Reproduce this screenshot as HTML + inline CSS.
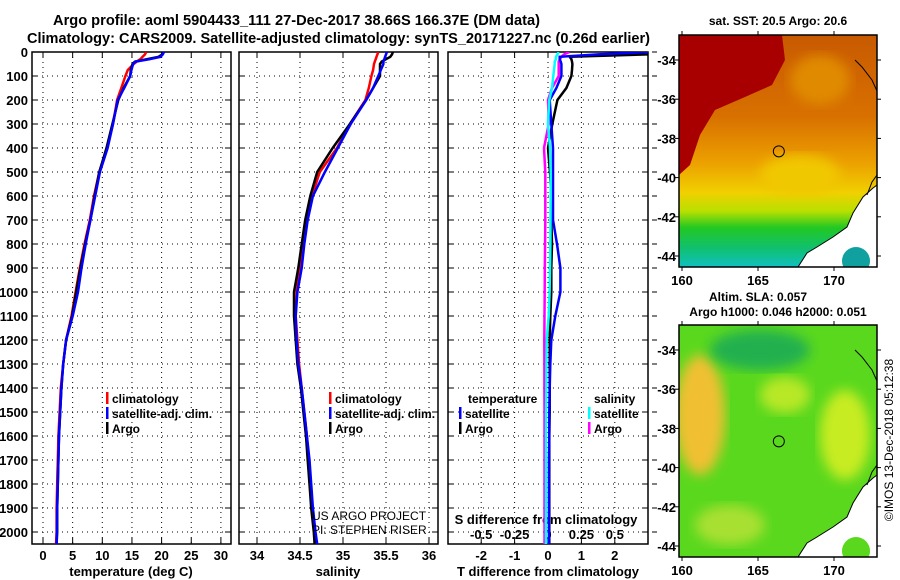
<!DOCTYPE html>
<html><head><meta charset="utf-8"><style>
html,body{margin:0;padding:0;background:#fff;}
svg{display:block;font-family:"Liberation Sans",sans-serif;font-weight:bold;}
</style></head><body>
<svg id="fig" width="900" height="580" viewBox="0 0 900 580" xmlns="http://www.w3.org/2000/svg">
<defs>
<linearGradient id="sstg" x1="0" y1="0" x2="0" y2="1">
<stop offset="0" stop-color="#c85a00"/><stop offset="0.35" stop-color="#d87000"/><stop offset="0.55" stop-color="#eca000"/>
<stop offset="0.68" stop-color="#f0d000"/><stop offset="0.76" stop-color="#b8e000"/><stop offset="0.83" stop-color="#22c822"/>
<stop offset="0.92" stop-color="#10c070"/><stop offset="1" stop-color="#10c0c0"/></linearGradient>
<filter id="bl"><feGaussianBlur stdDeviation="6"/></filter>
<clipPath id="c1"><rect x="679" y="35" width="198" height="232"/></clipPath>
<clipPath id="c2"><rect x="679" y="325" width="198" height="232"/></clipPath>
</defs>
<text x="53" y="25" font-size="14.5" textLength="487" lengthAdjust="spacingAndGlyphs">Argo profile: aoml 5904433_111 27-Dec-2017 38.66S 166.37E (DM data)</text>
<text x="27" y="43" font-size="14.5" textLength="623" lengthAdjust="spacingAndGlyphs">Climatology: CARS2009. Satellite-adjusted climatology: synTS_20171227.nc (0.26d earlier)</text>
<g id="maps"></g>
<g id="plots"></g>
</svg>
<script>
// ---- data ----
const depths=[0,10,20,30,40,50,75,100,150,200,300,400,500,600,700,800,900,1000,1100,1200,1300,1400,1500,1600,1700,1800,1900,2000,2050];
const argoT=[20.3,20.1,19.5,17.5,15.5,15.1,14.8,14.7,13.6,12.7,11.7,10.7,9.5,8.7,8.0,7.1,6.3,5.6,4.9,3.9,3.4,3.1,2.9,2.7,2.6,2.5,2.4,2.4,2.3];
const climT=[17.4,17.2,16.8,16.4,15.8,15.3,14.3,13.9,13.2,12.5,11.8,10.8,9.5,8.6,7.9,7.0,6.2,5.5,4.8,3.9,3.4,3.0,2.8,2.6,2.5,2.4,2.3,2.3,2.2];
const satT=[20.4,20.2,19.8,18,15.6,15.2,14.9,14.7,13.7,12.6,11.8,10.9,9.6,8.8,8.0,7.2,6.5,5.9,5.0,3.9,3.4,3.1,2.9,2.7,2.6,2.5,2.4,2.35,2.3];
const argoS=[35.58,35.57,35.55,35.5,35.45,35.43,35.43,35.43,35.35,35.27,35.08,34.88,34.7,34.62,34.56,34.52,34.48,34.43,34.43,34.45,34.47,34.51,34.54,34.57,34.59,34.61,34.63,34.66,34.67];
const climS=[35.41,35.4,35.39,35.38,35.37,35.36,35.35,35.33,35.3,35.26,35.08,34.93,34.73,34.64,34.58,34.54,34.5,34.46,34.45,34.47,34.49,34.52,34.55,34.58,34.6,34.62,34.64,34.67,34.68];
const satS=[35.51,35.5,35.49,35.48,35.47,35.47,35.44,35.41,35.35,35.27,35.09,34.94,34.79,34.65,34.59,34.55,34.52,34.47,34.45,34.46,34.48,34.52,34.55,34.58,34.61,34.63,34.65,34.68,34.7];
const argoDT=[3.0,3.0,0.65,0.7,0.72,0.73,0.72,0.7,0.55,0.28,0.13,0.0,0.06,0.1,0.1,0.12,0.1,0.1,0.07,0.05,0.05,0.05,0.05,0.04,0.04,0.04,0.04,0.04,0.04];
const satDT=[3.0,1.5,0.35,0.35,0.38,0.4,0.4,0.4,0.25,0.05,0.1,0.15,0.15,0.15,0.15,0.27,0.37,0.37,0.22,0.1,0.07,0.05,0.04,0.04,0.03,0.03,0.03,0.03,0.03];
const argoDS=[0.16,0.12,0.1,0.09,0.08,0.08,0.08,0.08,0.03,0.0,0.005,-0.03,-0.02,-0.02,-0.02,-0.022,-0.024,-0.025,-0.026,-0.028,-0.027,-0.027,-0.026,-0.026,-0.026,-0.026,-0.026,-0.026,-0.026];
const satDS=[0.08,0.07,0.06,0.06,0.05,0.05,0.045,0.04,0.03,0.01,0.0,0.015,0.02,0.02,0.019,0.018,0.015,0.012,0.005,-0.01,-0.012,-0.013,-0.014,-0.015,-0.015,-0.015,-0.015,-0.015,-0.015];
const depthTicks=[0,100,200,300,400,500,600,700,800,900,1000,1100,1200,1300,1400,1500,1600,1700,1800,1900,2000];
const tTicks=[0,5,10,15,20,25,30];
const sTicks=[34,34.5,35,35.5,36];
const sTickLabels=['34','34.5','35','35.5','36'];
const dtTicks=[-2,-1,0,1,2];
const dsTicks=[-0.5,-0.25,0,0.25,0.5];
const dsTickLabels=['-0.5','-0.25','0','0.25','0.5'];
const latTicks=[-34,-36,-38,-40,-42,-44];
const lonTicks=[160,165,170];
const argoLon=166.37, argoLat=-38.66;

const NS='http://www.w3.org/2000/svg';
const plots=document.getElementById('plots'), maps=document.getElementById('maps');
function mk(tag,attrs,parent,txt){const e=document.createElementNS(NS,tag);for(const k in attrs)e.setAttribute(k,attrs[k]);if(txt!==undefined)e.textContent=txt;(parent||plots).appendChild(e);return e;}
const yD=d=>52+d*0.24;
const xT=t=>43+5.93*t, xS=s=>257+86*(s-34), xdT=v=>548+33.4*v, xdS=v=>548+133.6*v;
const PT=52,PB=544;
const panels=[{x0:32,x1:231,n:'temperature-panel'},{x0:239,x1:438,n:'salinity-panel'},{x0:448,x1:648,n:'difference-panel'}];
const vgrid=[tTicks.map(xT),sTicks.map(xS),dtTicks.map(xdT)];
panels.forEach((p,i)=>{
  const g=mk('g',{},plots);
  
  
  const cp=mk('clipPath',{id:'pc'+i},g);mk('rect',{x:p.x0,y:PT,width:p.x1-p.x0,height:PB-PT},cp);
  depthTicks.forEach(d=>{const l=mk('line',{x1:p.x0,x2:p.x1,y1:yD(d),y2:yD(d),stroke:'#000','stroke-width':1,'stroke-dasharray':'1,4'},g);
    
    mk('line',{x1:p.x0,x2:p.x0+6,y1:yD(d),y2:yD(d),stroke:'#000'},g);mk('line',{x1:p.x1-6,x2:p.x1,y1:yD(d),y2:yD(d),stroke:'#000'},g);
    if(i==2)mk('line',{x1:p.x1+4,x2:p.x1+9,y1:yD(d),y2:yD(d),stroke:'#000'},g);});
  vgrid[i].forEach(x=>{const l=mk('line',{x1:x,x2:x,y1:PT,y2:PB,stroke:'#000','stroke-dasharray':'1,4'},g);
    
    mk('line',{x1:x,x2:x,y1:PB-6,y2:PB,stroke:'#000'},g);mk('line',{x1:x,x2:x,y1:PT,y2:PT+6,stroke:'#000'},g);});
  const r=mk('rect',{x:p.x0,y:PT,width:p.x1-p.x0,height:PB-PT,fill:'none',stroke:'#000','stroke-width':1.5},g);
  
});
depthTicks.forEach(d=>{const t=mk('text',{x:28,y:yD(d)+5,'text-anchor':'end','font-size':13},plots,String(d));
  });
tTicks.forEach(v=>{const t=mk('text',{x:xT(v),y:560,'text-anchor':'middle','font-size':13},plots,String(v));
  });
sTicks.forEach((v,k)=>{const t=mk('text',{x:xS(v),y:560,'text-anchor':'middle','font-size':13},plots,sTickLabels[k]);
  });
dtTicks.forEach(v=>{const t=mk('text',{x:xdT(v),y:560,'text-anchor':'middle','font-size':13},plots,String(v));
  });
dsTicks.forEach((v,k)=>{const t=mk('text',{x:xdS(v),y:539,'text-anchor':'middle','font-size':13},plots,dsTickLabels[k]);
  });
[['temperature (deg C)',131,'temperature-axis-title'],['salinity',338,'salinity-axis-title'],['T difference from climatology',548,'tdiff-axis-title']].forEach(a=>{
  const t=mk('text',{x:a[1],y:576,'text-anchor':'middle','font-size':13},plots,a[0]);
  });
let t0=mk('text',{x:546,y:524,'text-anchor':'middle','font-size':13},plots,'S difference from climatology');


function series(vals,xf,color,clip,name){
  const pts=vals.map((v,k)=>xf(v).toFixed(1)+','+yD(depths[k]).toFixed(1)).join(' ');
  const pl=mk('polyline',{points:pts,fill:'none',stroke:color,'stroke-width':2.5,'clip-path':'url(#'+clip+')'},plots);
  
  
}
series(climT,xT,'#f00','pc0','climatology-temperature-line');
series(argoT,xT,'#000','pc0','argo-temperature-line');
series(satT,xT,'#00f','pc0','satellite-temperature-line');
series(climS,xS,'#f00','pc1','climatology-salinity-line');
series(argoS,xS,'#000','pc1','argo-salinity-line');
series(satS,xS,'#00f','pc1','satellite-salinity-line');
series(argoDS,xdS,'#f0f','pc2','argo-sdiff-line');
series(argoDT,xdT,'#000','pc2','argo-tdiff-line');
series(satDT,xdT,'#00f','pc2','satellite-tdiff-line');
series(satDS,xdS,'#0ff','pc2','satellite-sdiff-line');

function legend(x,y,color,label,name){
  const g=mk('g',{},plots);
  
  
  mk('rect',{x:x,y:y-11,width:2.5,height:12,fill:color},g);
  mk('text',{x:x+6,y:y,'font-size':12},g,label);
}
legend(106,403,'#f00','climatology','legend-climatology');
legend(106,418,'#00f','satellite-adj. clim.','legend-satellite-adj');
legend(106,433,'#000','Argo','legend-argo');
legend(329,403,'#f00','climatology','legend-climatology-s');
legend(329,418,'#00f','satellite-adj. clim.','legend-satellite-adj-s');
legend(329,433,'#000','Argo','legend-argo-s');
let tl=mk('text',{x:468,y:403,'font-size':12},plots,'temperature');
legend(459,418,'#00f','satellite','legend-t-satellite');
legend(459,433,'#000','Argo','legend-t-argo');
let sl=mk('text',{x:594,y:403,'font-size':12},plots,'salinity');
legend(588,418,'#0ff','satellite','legend-s-satellite');
legend(588,433,'#f0f','Argo','legend-s-argo');
let c1=mk('text',{x:312,y:520,'font-size':12,'font-weight':'normal'},plots,'US ARGO PROJECT');
let c2=mk('text',{x:312,y:534,'font-size':12,'font-weight':'normal'},plots,'PI: STEPHEN RISER');

// ---- maps ----
const MX0=679,MX1=877;
const lonX=l=>682+15.2*(l-160);
function drawMap(top,kind){
  const latY=la=>top+25+19.6*(-34-la);
  const g=mk('g',{},maps);
  
  
  const gc=mk('g',{'clip-path':'url(#'+(kind==='sst'?'c1':'c2')+')'},g);
  if(kind==='sst'){
    mk('rect',{x:MX0,y:top,width:198,height:232,fill:'url(#sstg)'},gc);
    mk('polygon',{points:`679,${top} 782,${top} 785,${top+25} 772,${top+50} 745,${top+62} 715,${top+75} 700,${top+100} 690,${top+130} 679,${top+140}`,fill:'#a80000'},gc);
    mk('ellipse',{cx:820,cy:top+45,rx:30,ry:25,fill:'#e08a00',filter:'url(#bl)'},gc);
    mk('ellipse',{cx:800,cy:top+140,rx:40,ry:20,fill:'#f0c800',filter:'url(#bl)'},gc);
  } else {
    mk('rect',{x:MX0,y:top,width:198,height:232,fill:'#5ad81e'},gc);
    mk('ellipse',{cx:700,cy:top+90,rx:25,ry:60,fill:'#f0c030',filter:'url(#bl)'},gc);
    mk('ellipse',{cx:760,cy:top+25,rx:50,ry:20,fill:'#20b050',filter:'url(#bl)'},gc);
    mk('ellipse',{cx:845,cy:top+110,rx:25,ry:45,fill:'#c8ec20',filter:'url(#bl)'},gc);
    mk('ellipse',{cx:730,cy:top+200,rx:35,ry:20,fill:'#a8e030',filter:'url(#bl)'},gc);
    mk('ellipse',{cx:785,cy:top+70,rx:25,ry:18,fill:'#b8e828',filter:'url(#bl)'},gc);
  }
  const land=mk('polygon',{points:`877,${top+150} 873,${top+153} 863,${top+162} 853,${top+178} 847,${top+192} 833,${top+202} 817,${top+212} 807,${top+218} 798,${top+232} 877,${top+232}`,fill:'#fff',stroke:'#000','stroke-width':1},gc);
  
  
  mk('circle',{cx:856,cy:top+226,r:14,fill:kind==='sst'?'#10a0a0':'#5ad81e'},gc);
  mk('polyline',{points:`855,${top+25} 862,${top+32} 872,${top+45} 877,${top+56}`,fill:'none',stroke:'#000','stroke-width':1},gc);
  mk('polyline',{points:`877,${top+140} 872,${top+147} 867,${top+160}`,fill:'none',stroke:'#000','stroke-width':1},gc);
  mk('rect',{x:MX0,y:top,width:198,height:232,fill:'none',stroke:'#000','stroke-width':1.5},g);
  const m=mk('circle',{cx:lonX(argoLon),cy:latY(argoLat),r:5.5,fill:'none',stroke:'#000','stroke-width':1},g);
  
  
  latTicks.forEach(la=>{const y=latY(la);mk('line',{x1:MX0-4,x2:MX0,y1:y,y2:y,stroke:'#000'},g);mk('line',{x1:MX1,x2:MX1+4,y1:y,y2:y,stroke:'#000'},g);
    const t=mk('text',{x:676,y:y+5,'text-anchor':'end','font-size':13},g,String(la));
    });
  lonTicks.forEach(lo=>{const x=lonX(lo);mk('line',{x1:x,x2:x,y1:top-4,y2:top,stroke:'#000'},g);mk('line',{x1:x,x2:x,y1:top+232,y2:top+236,stroke:'#000'},g);
    const t=mk('text',{x:x,y:top+250,'text-anchor':'middle','font-size':13},g,String(lo));
    });
}
drawMap(35,'sst');
drawMap(325,'sla');
let m1=mk('text',{x:778,y:25,'text-anchor':'middle','font-size':12},maps,'sat. SST: 20.5 Argo: 20.6');
let m2=mk('text',{x:758,y:301,'text-anchor':'middle','font-size':12},maps,'Altim. SLA: 0.057');
let m3=mk('text',{x:778,y:316,'text-anchor':'middle','font-size':12},maps,'Argo h1000: 0.046 h2000: 0.051');
let cr=mk('text',{x:0,y:0,'text-anchor':'middle','font-size':12,'font-weight':'normal',transform:'translate(893,440) rotate(-90)'},maps,'©IMOS 13-Dec-2018 05:12:38');
</script>
</body></html>
